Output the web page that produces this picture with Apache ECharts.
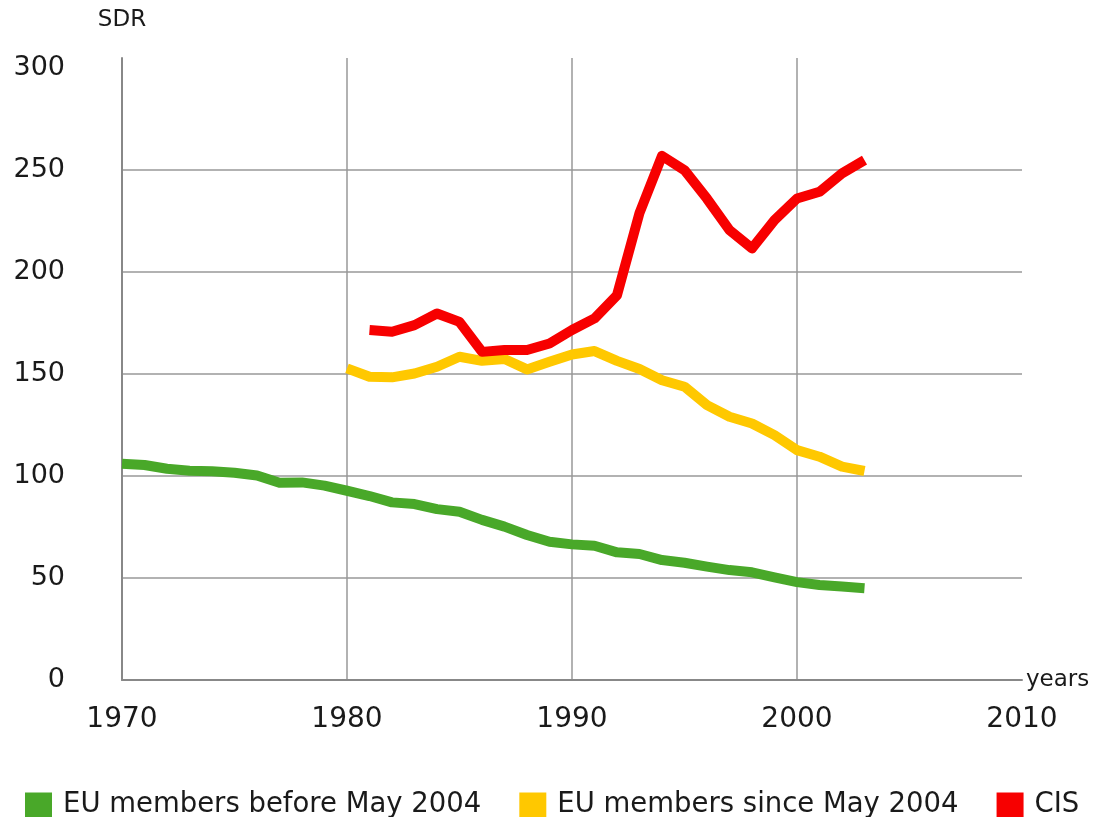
<!DOCTYPE html>
<html>
<head>
<meta charset="utf-8">
<title>SDR</title>
<script src="https://cdn.jsdelivr.net/npm/echarts@6/dist/echarts.min.js"></script>
<style>
  html, body { margin: 0; padding: 0; background: #fff; }
  #chart { width: 1095px; height: 817px; }
</style>
</head>
<body>
<div id="chart"></div>
<script>
// years on the x axis
const years = [1970, 1971, 1972, 1973, 1974, 1975, 1976, 1977, 1978, 1979,
  1980, 1981, 1982, 1983, 1984, 1985, 1986, 1987, 1988, 1989,
  1990, 1991, 1992, 1993, 1994, 1995, 1996, 1997, 1998, 1999,
  2000, 2001, 2002, 2003];

// EU members before May 2004 (1970-2003)
const euBefore = [106, 105.4, 103.6, 102.6, 102.4, 101.6, 100.3, 96.7, 96.9, 95.3,
  92.8, 90.2, 87.1, 86.3, 83.8, 82.5, 78.5, 75.2, 71.1, 67.8,
  66.5, 65.8, 62.6, 61.8, 58.8, 57.5, 55.6, 53.9, 52.8, 50.3,
  48, 46.6, 45.8, 45];

// EU members since May 2004 (1980-2003)
const euSince = [152.8, 148.7, 148.4, 150.3, 153.6, 158.5, 156.5, 157.4, 152.3, 156,
  159.6, 161.3, 156.5, 152.5, 147, 143.8, 134.8, 129.1, 125.8, 120.1,
  112.7, 109.5, 104.6, 102.5];

// CIS (1981-2003)
const cis = [171.6, 170.8, 174, 179.7, 175.6, 160.9, 161.8, 161.8, 165,
  171.6, 177.3, 188.7, 229, 257, 250, 236, 220.6, 211.6, 225.5,
  236.1, 239.4, 248.4, 254.9];

const seriesNames = ["EU members before May 2004", "EU members since May 2004", "CIS"];
const colors = ["#49a829", "#ffc800", "#f70000"];
const yTicks = [0, 50, 100, 150, 200, 250, 300];

function pairs(startYear, values) {
  const from = years.indexOf(startYear);
  return values.map((v, i) => [years[from + i], v]);
}

const font = "DejaVu Sans";
const chart = echarts.init(document.getElementById("chart"));

chart.setOption({
  animation: false,
  color: colors,
  grid: { left: 122, right: 73, top: 58, bottom: 137 },
  legend: {
    data: seriesNames,
    left: 20,
    top: 786,
    icon: "rect",
    itemWidth: 27,
    itemHeight: 25,
    itemGap: 38,
    textStyle: { fontFamily: font, fontSize: 27.5, color: "#1a1a1a", padding: [0, 0, 0, 6] },
  },
  xAxis: {
    type: "value",
    min: 1970,
    max: 2010,
    interval: 10,
    name: "years",
    nameLocation: "end",
    nameGap: 4,
    nameTextStyle: { fontFamily: font, fontSize: 23, color: "#1a1a1a", verticalAlign: "middle" },
    axisLine: { lineStyle: { color: "#888", width: 2 } },
    axisTick: { show: false },
    axisLabel: {
      margin: 26,
      fontFamily: font,
      fontSize: 28,
      color: "#1a1a1a",
      formatter: (v) => String(v),
    },
    splitLine: {
      show: true,
      showMinLine: false,
      showMaxLine: false,
      lineStyle: { color: "#999", width: 1.5 },
    },
  },
  yAxis: {
    type: "value",
    min: 0,
    max: 305,
    interval: 50,
    name: "SDR",
    nameLocation: "end",
    nameGap: 26,
    nameTextStyle: { fontFamily: font, fontSize: 23, color: "#1a1a1a" },
    axisLine: { show: true, lineStyle: { color: "#888", width: 2 } },
    axisTick: { show: false },
    axisLabel: {
      margin: 57,
      fontFamily: font,
      fontSize: 27,
      color: "#1a1a1a",
      formatter: (v) => (yTicks.includes(v) ? String(v) : ""),
    },
    splitLine: {
      show: true,
      showMinLine: false,
      showMaxLine: false,
      // no line at 300
      lineStyle: { color: ["#999", "#999", "#999", "#999", "#999", "rgba(0,0,0,0)"], width: 1.5 },
    },
  },
  series: [
    {
      name: seriesNames[0],
      type: "line",
      data: pairs(1970, euBefore),
      showSymbol: false,
      lineStyle: { width: 10, color: colors[0], join: "round" },
    },
    {
      name: seriesNames[1],
      type: "line",
      data: pairs(1980, euSince),
      showSymbol: false,
      lineStyle: { width: 10, color: colors[1], join: "round" },
    },
    {
      name: seriesNames[2],
      type: "line",
      data: pairs(1981, cis),
      showSymbol: false,
      lineStyle: { width: 10, color: colors[2], join: "round" },
    },
  ],
});
</script>
</body>
</html>
